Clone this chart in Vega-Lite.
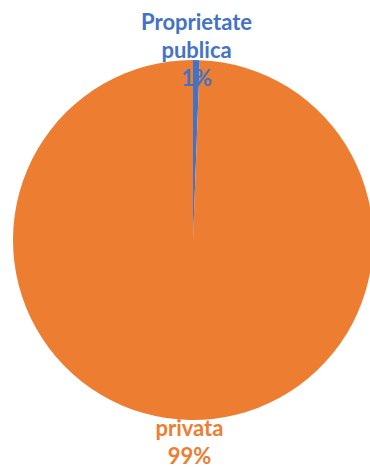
{
  "$schema": "https://vega.github.io/schema/vega-lite/v6.json",
  "autosize": "none",
  "padding": {"left": 16, "top": 11, "right": 0, "bottom": 0},
  "width": 354,
  "height": 458,
  "background": "white",
  "data": {
    "values": [
      {"category": "Proprietate publica", "share": 0.6, "label": ["Proprietate", "publica", "1%"]},
      {"category": "Proprietate privata", "share": 99.4, "label": ["Proprietate", "privata", "99%"]}
    ]
  },
  "encoding": {
    "theta": {"field": "share", "type": "quantitative", "stack": true},
    "order": {"field": "share", "type": "quantitative", "sort": "ascending"},
    "color": {
      "field": "category",
      "type": "nominal",
      "scale": {"domain": ["Proprietate publica", "Proprietate privata"], "range": ["#4472C4", "#ED7D31"]},
      "legend": null
    }
  },
  "layer": [
    {"mark": {"type": "arc", "outerRadius": 180, "stroke": "white", "strokeWidth": 0}},
    {
      "mark": {"type": "text", "radius": 189, "dy": -28, "font": "Lato", "fontWeight": "bold", "fontSize": 22, "lineHeight": 28, "baseline": "middle", "align": "center"},
      "encoding": {"text": {"field": "label"}}
    }
  ]
}
